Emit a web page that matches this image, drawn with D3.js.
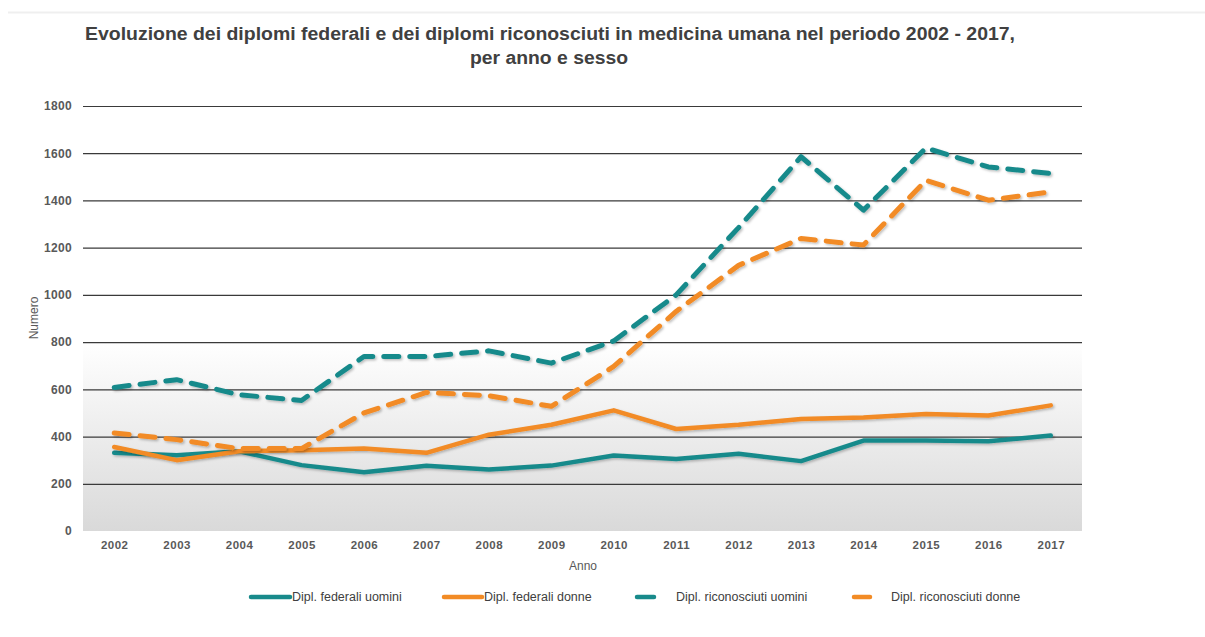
<!DOCTYPE html>
<html><head><meta charset="utf-8">
<script src="https://cdn.jsdelivr.net/npm/d3@7"></script>
<style>body{margin:0;background:#fff;}svg{display:block;font-family:"Liberation Sans",Arial,sans-serif;}</style>
</head><body><svg id="c" width="1205" height="637"></svg>
<script>
const years = ["2002","2003","2004","2005","2006","2007","2008","2009","2010","2011","2012","2013","2014","2015","2016","2017"];
const federaliUomini = [331,321,338,279,249,276,260,277,320,305,327,296,383,383,380,404];
const federaliDonne = [356,300,338,342,349,331,408,450,511,432,450,474,481,496,489,532];
const riconosciutiUomini = [608,641,577,553,739,739,763,711,805,1000,1285,1585,1359,1622,1542,1514];
const riconosciutiDonne = [415,387,349,349,500,587,573,528,697,930,1125,1239,1211,1485,1401,1436];
const yTicks = [0,200,400,600,800,1000,1200,1400,1600,1800];
const seriesNames = ["Dipl. federali uomini","Dipl. federali donne","Dipl. riconosciuti uomini","Dipl. riconosciuti donne"];

const teal = "#188a8b", orange = "#f28b25";
const series = [
  {name: seriesNames[0], values: federaliUomini, color: teal, dash: null},
  {name: seriesNames[1], values: federaliDonne, color: orange, dash: null},
  {name: seriesNames[2], values: riconosciutiUomini, color: teal, dash: "15,11"},
  {name: seriesNames[3], values: riconosciutiDonne, color: orange, dash: "15,11"}
];

const svg = d3.select("#c");
const L = 83, R = 1082, T = 106, B = 531;
const x = d3.scalePoint().domain(years).range([L, R]).padding(0.5);
const y = d3.scaleLinear().domain([0, 1800]).range([B, T]);

const defs = svg.append("defs");
const grad = defs.append("linearGradient").attr("id","bg").attr("x1",0).attr("y1",0).attr("x2",0).attr("y2",1);
grad.append("stop").attr("offset","0%").attr("stop-color","#ffffff");
grad.append("stop").attr("offset","100%").attr("stop-color","#d9d9d9");
const f = defs.append("filter").attr("id","sh").attr("x","-5%").attr("y","-20%").attr("width","110%").attr("height","140%");
f.append("feDropShadow").attr("dx",1.5).attr("dy",1.5).attr("stdDeviation",1.2).attr("flood-color","#000").attr("flood-opacity",0.25);

// top separator
svg.append("line").attr("x1",8).attr("x2",1205).attr("y1",12.5).attr("y2",12.5).attr("stroke","#efefef").attr("stroke-width",2);

// title
svg.append("text").attr("x",550).attr("y",40).attr("text-anchor","middle")
  .attr("font-size",18).attr("font-weight","bold").attr("fill","#404040")
  .attr("textLength",930).attr("lengthAdjust","spacingAndGlyphs")
  .text("Evoluzione dei diplomi federali e dei diplomi riconosciuti in medicina umana nel periodo 2002 - 2017,");
svg.append("text").attr("x",549).attr("y",64).attr("text-anchor","middle")
  .attr("font-size",18).attr("font-weight","bold").attr("fill","#404040")
  .attr("textLength",158).attr("lengthAdjust","spacingAndGlyphs")
  .text("per anno e sesso");

// background gradient in lower part
svg.append("rect").attr("x",L).attr("y",y(800)).attr("width",R-L).attr("height",B-y(800)).attr("fill","url(#bg)");

// y axis grid
const yAxis = d3.axisLeft(y).tickValues(yTicks).tickFormat(d3.format("d")).tickSize(0).tickPadding(11);
const gy = svg.append("g").attr("transform",`translate(${L},0)`).call(yAxis);
gy.select(".domain").remove();
gy.selectAll("text").attr("font-size",12).attr("font-weight","bold").attr("fill","#595959")
  .attr("font-family","Liberation Sans, Arial, sans-serif").attr("letter-spacing","0.3px");
svg.append("g").selectAll("line").data(yTicks.filter(d=>d>0)).join("line")
  .attr("x1",L).attr("x2",R).attr("y1",d=>y(d)+0.5).attr("y2",d=>y(d)+0.5)
  .attr("stroke","#3a3a3a").attr("stroke-width",1.2);

// x axis
const xAxis = d3.axisBottom(x).tickSize(0).tickPadding(10);
const gx = svg.append("g").attr("transform",`translate(0,${B})`).call(xAxis);
gx.select(".domain").remove();
gx.selectAll("text").attr("font-size",11.5).attr("font-weight","bold").attr("fill","#595959")
  .attr("font-family","Liberation Sans, Arial, sans-serif").attr("letter-spacing","0.5px");

// axis titles
svg.append("text").attr("x",583).attr("y",570).attr("text-anchor","middle").attr("font-size",12).attr("fill","#595959").text("Anno");
svg.append("text").attr("transform","translate(38,318) rotate(-90)").attr("text-anchor","middle").attr("font-size",12).attr("fill","#595959").text("Numero");

// lines
const line = d3.line().x((d,i)=>x(years[i])).y(d=>y(d));
svg.append("g").selectAll("path").data(series).join("path")
  .attr("d",d=>line(d.values)).attr("fill","none").attr("stroke",d=>d.color)
  .attr("stroke-width",d=>d.dash?5:4.5).attr("stroke-dasharray",d=>d.dash)
  .attr("stroke-linejoin","round").attr("stroke-linecap","round")
  .attr("filter","url(#sh)");

// legend
const legendItems = [
  {s: series[0], x1: 251, x2: 290, tx: 292},
  {s: series[1], x1: 444, x2: 482, tx: 484},
  {s: series[2], x1: 637, x2: 654, tx: 676},
  {s: series[3], x1: 854, x2: 870, tx: 891}
];
const lg = svg.append("g").selectAll("g").data(legendItems).join("g");
lg.append("line").attr("x1",d=>d.x1).attr("x2",d=>d.x2).attr("y1",597).attr("y2",597)
  .attr("stroke",d=>d.s.color).attr("stroke-width",4.5).attr("stroke-linecap","round");
lg.append("text").attr("x",d=>d.tx).attr("y",601).attr("font-size",12.5).attr("fill","#404040").text(d=>d.s.name);
</script></body></html>
